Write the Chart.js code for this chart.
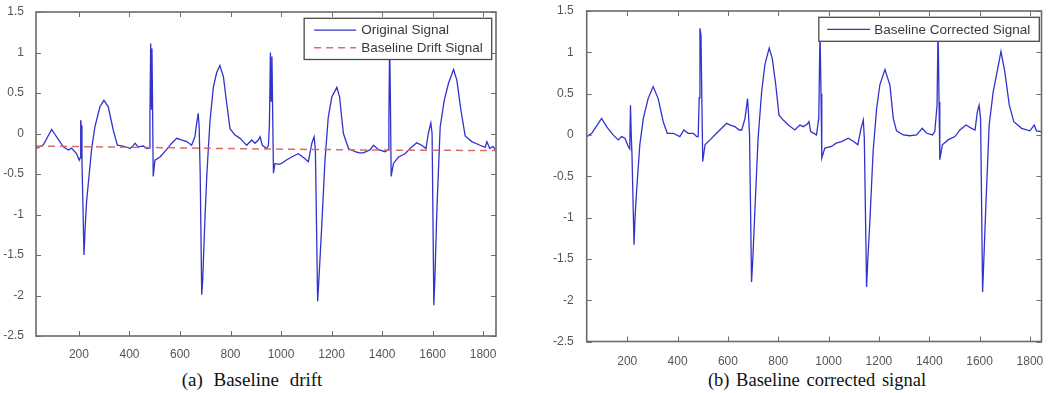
<!DOCTYPE html>
<html><head><meta charset="utf-8">
<script src="https://cdn.jsdelivr.net/npm/chart.js@4.4.1/dist/chart.umd.min.js"></script>
<style>
html,body{margin:0;padding:0;background:#fff;}
#wrap{position:relative;width:1050px;height:393px;overflow:hidden;background:#fff;}
canvas{position:absolute;top:0;}
#ca{left:0}
#cb{left:525px}
.cap{position:absolute;top:370px;line-height:20px;font-family:"Liberation Serif","Times New Roman",serif;font-size:19px;color:#111;word-spacing:6px;white-space:nowrap;transform:translateX(-50%);}
</style></head><body>
<div id="wrap">
<canvas id="ca" width="525" height="365"></canvas>
<canvas id="cb" width="525" height="365"></canvas>
<div class="cap" style="left:252px">(a) Baseline drift</div>
<div class="cap" style="left:817px;font-size:18.5px;word-spacing:2px">(b) Baseline corrected signal</div>
</div>
<script>
const xTicks = [200, 400, 600, 800, 1000, 1200, 1400, 1600, 1800];
const yTicks = [-2.5, -2, -1.5, -1, -0.5, 0, 0.5, 1, 1.5];

// (a) original ECG signal
const origX = [32,59,92,138,158,171,191,201,205,207,209,212,220,224,230,237,250,263,283,299,316,336,352,375,390,402,415,422,435,455,468,478,481,484,487,489,491,494,501,521,547,567,587,605,627,646,659,667,670,672,676,680,686,690,699,706,712,719,732,745,758,772,785,798,818,838,850,864,884,897,910,917,926,943,950,954,958,961,964,970,976,990,1002,1020,1042,1068,1090,1108,1122,1131,1136,1145,1150,1161,1174,1187,1201,1221,1232,1240,1247,1267,1293,1310,1326,1353,1366,1386,1412,1424,1427,1430,1433,1436,1445,1465,1491,1511,1537,1557,1574,1583,1593,1598,1605,1610,1617,1630,1646,1663,1683,1696,1712,1729,1755,1788,1808,1815,1826,1839,1848];
const origY = [-0.185,-0.14,0.05,-0.165,-0.205,-0.18,-0.25,-0.33,-0.3,0.165,0.1,-0.35,-1.5,-1.2,-0.85,-0.62,-0.2,0.08,0.33,0.41,0.33,0.04,-0.145,-0.155,-0.17,-0.185,-0.15,-0.12,-0.165,-0.155,-0.185,-0.18,0.2,1.11,0.3,1.05,0.5,-0.53,-0.33,-0.29,-0.2,-0.12,-0.06,-0.08,-0.1,-0.145,-0.04,0.15,0.2,0.25,0.08,-0.5,-1.99,-1.8,-1.03,-0.53,-0.2,0.16,0.57,0.75,0.84,0.7,0.37,0.06,-0.02,-0.06,-0.1,-0.145,-0.08,-0.12,-0.08,-0.04,-0.145,-0.185,-0.15,0.1,1.0,0.4,0.95,-0.49,-0.37,-0.38,-0.37,-0.33,-0.29,-0.25,-0.3,-0.35,-0.12,-0.04,-0.2,-2.07,-1.8,-1.15,-0.33,0.2,0.45,0.57,0.45,0.2,0.0,-0.185,-0.225,-0.24,-0.24,-0.2,-0.145,-0.2,-0.225,-0.2,0.16,1.15,0.4,-0.53,-0.37,-0.29,-0.25,-0.185,-0.115,-0.145,-0.185,0.0,0.13,0.0,-2.12,-1.7,-0.94,0.08,0.41,0.62,0.79,0.66,0.29,-0.03,-0.1,-0.145,-0.17,-0.1,-0.185,-0.16,-0.2];

// (a) baseline drift
const driftX = [30, 400, 900, 1400, 1851];
const driftY = [-0.155, -0.17, -0.19, -0.205, -0.21];

// (b) baseline corrected signal
const corrX = [39,59,72,98,118,144,164,178,191,204,210,213,216,219,227,231,237,250,264,283,303,323,343,359,383,409,425,442,462,476,482,486,489,493,500,509,529,555,575,595,610,628,645,655,668,678,682,686,694,699,707,720,734,747,764,776,790,803,820,840,866,886,899,915,922,929,952,961,966,970,973,985,1012,1030,1052,1078,1100,1116,1129,1138,1142,1151,1156,1164,1177,1191,1204,1224,1244,1257,1270,1297,1323,1350,1372,1390,1413,1422,1431,1435,1439,1442,1452,1475,1502,1522,1546,1568,1582,1591,1598,1604,1612,1617,1625,1638,1654,1670,1685,1700,1718,1736,1767,1800,1817,1826,1846];
const corrY = [-0.02,0.02,0.08,0.2,0.1,0.0,-0.06,-0.02,-0.04,-0.14,-0.17,0.36,0.0,-0.25,-1.33,-1.0,-0.69,-0.12,0.2,0.44,0.585,0.44,0.16,0.02,0.02,-0.02,0.06,0.02,0.02,-0.02,-0.02,0.45,1.29,1.21,-0.32,-0.12,-0.06,0.02,0.08,0.14,0.12,0.1,0.06,0.06,0.2,0.44,0.25,0.0,-1.78,-1.5,-0.93,-0.04,0.52,0.85,1.05,0.93,0.61,0.24,0.18,0.12,0.06,0.12,0.1,0.13,0.16,0.04,0.0,0.2,1.25,0.5,-0.28,-0.16,-0.14,-0.1,-0.08,-0.04,-0.08,-0.12,0.08,0.18,-0.04,-1.84,-1.5,-1.05,-0.2,0.32,0.61,0.79,0.6,0.2,0.05,0.0,-0.01,0.0,0.08,0.02,0.0,0.04,0.36,1.3,0.4,-0.3,-0.12,-0.06,-0.02,0.06,0.12,0.08,0.06,0.28,0.36,0.2,-1.9,-1.5,-0.85,0.12,0.52,0.77,1.01,0.77,0.36,0.16,0.08,0.05,0.12,0.05,0.04];

function pts(xs, ys) { return xs.map((x, i) => ({ x: x, y: ys[i] })); }

const framePlugin = {
  id: 'frame',
  afterDatasetsDraw(chart) {
    const ctx = chart.ctx, a = chart.chartArea, sx = chart.scales.x, sy = chart.scales.y;
    const L = 5;
    ctx.save();
    ctx.strokeStyle = '#6e6e6e';
    ctx.lineWidth = 1;
    ctx.beginPath();
    sx.ticks.forEach(t => {
      const p = Math.round(sx.getPixelForValue(t.value)) + 0.5;
      ctx.moveTo(p, a.bottom); ctx.lineTo(p, a.bottom - L);
      ctx.moveTo(p, a.top); ctx.lineTo(p, a.top + L);
    });
    sy.ticks.forEach(t => {
      const p = Math.round(sy.getPixelForValue(t.value)) + 0.5;
      ctx.moveTo(a.left, p); ctx.lineTo(a.left + L, p);
      ctx.moveTo(a.right, p); ctx.lineTo(a.right - L, p);
    });
    ctx.stroke();
    ctx.lineWidth = 1.6;
    ctx.strokeStyle = '#6a6a6a';
    ctx.strokeRect(a.left, a.top, a.right - a.left, a.bottom - a.top);
    ctx.restore();
  },
  afterDraw(chart, args, o) {
    const ctx = chart.ctx, a = chart.chartArea, ds = chart.data.datasets;
    ctx.save();
    ctx.font = o.font;
    const tw = Math.max(...ds.map(d => ctx.measureText(d.label).width));
    const w = o.padL + o.lineLen + o.gap + tw + o.padR;
    const h = o.padV * 2 + ds.length * o.rowH;
    const right = a.right - o.offR, left = right - w, top = a.top + o.offT;
    ctx.fillStyle = '#fff';
    ctx.fillRect(left, top, w, h);
    ctx.strokeStyle = '#4a4a4a';
    ctx.lineWidth = 1.3;
    ctx.strokeRect(left, top, w, h);
    ds.forEach((d, i) => {
      const cy = top + o.padV + o.rowH * (i + 0.5);
      ctx.strokeStyle = d.borderColor;
      ctx.lineWidth = d.borderWidth;
      ctx.setLineDash(d.borderDash || []);
      ctx.beginPath();
      ctx.moveTo(left + o.padL, cy); ctx.lineTo(left + o.padL + o.lineLen, cy);
      ctx.stroke();
      ctx.setLineDash([]);
      ctx.fillStyle = '#3a3a3a';
      ctx.textBaseline = 'middle';
      ctx.textAlign = 'left';
      ctx.fillText(d.label, left + o.padL + o.lineLen + o.gap, cy + 0.5);
    });
    ctx.restore();
  }
};

const tickFont = { family: "'Liberation Sans', Arial, sans-serif", size: 12 };

function makeChart(id, datasets, cfg) {
  return new Chart(document.getElementById(id), {
    type: 'line',
    data: { datasets: datasets },
    options: {
      responsive: false, animation: false, devicePixelRatio: 1, events: [],
      layout: { padding: cfg.pad },
      plugins: { legend: { display: false }, tooltip: { enabled: false }, frame: cfg.legend },
      elements: { point: { radius: 0 }, line: { tension: 0 } },
      scales: {
        x: {
          type: 'linear', min: cfg.xmin, max: cfg.xmax,
          afterBuildTicks: s => { s.ticks = xTicks.map(v => ({ value: v })); },
          afterFit: s => { s.height = cfg.xh; s.paddingLeft = 0; s.paddingRight = 0; },
          grid: { display: false }, border: { display: false },
          ticks: { autoSkip: false, maxRotation: 0, padding: cfg.xpad, color: '#555555', font: tickFont, callback: v => String(v) }
        },
        y: {
          type: 'linear', min: -2.5, max: 1.5,
          afterBuildTicks: s => { s.ticks = yTicks.map(v => ({ value: v })); },
          afterFit: s => { s.width = 36; s.paddingTop = 0; s.paddingBottom = 0; },
          grid: { display: false }, border: { display: false },
          ticks: { autoSkip: false, padding: cfg.ypad, color: '#555555', font: tickFont, callback: v => String(v) }
        }
      }
    },
    plugins: [framePlugin]
  });
}

makeChart('ca', [
  { label: 'Original Signal', data: pts(origX, origY), borderColor: 'rgb(50,50,205)', borderWidth: 1.3, order: 1 },
  { label: 'Baseline Drift Signal', data: pts(driftX, driftY), borderColor: 'rgb(215,110,110)', borderWidth: 1.5, borderDash: [7, 5], order: 0 }
], {
  pad: { left: 0, top: 12, right: 29, bottom: 0 }, xh: 29, xmin: 30, xmax: 1851, xpad: 3, ypad: 4,
  legend: { font: "13.5px 'Liberation Sans', Arial, sans-serif", padL: 10, lineLen: 42, gap: 5, padR: 9, padV: 3, rowH: 17.6, offR: 4.3, offT: 6.3 }
});

makeChart('cb', [
  { label: 'Baseline Corrected Signal', data: pts(corrX, corrY), borderColor: 'rgb(50,50,205)', borderWidth: 1.3 }
], {
  pad: { left: 25.7, top: 11, right: 8.5, bottom: 0 }, xh: 23.5, xmin: 39, xmax: 1846, xpad: 5, ypad: 5,
  legend: { font: "13.5px 'Liberation Sans', Arial, sans-serif", padL: 8.4, lineLen: 43, gap: 4, padR: 9, padV: 3, rowH: 18, offR: 2.2, offT: 6.3 }
});
</script>
</body></html>
